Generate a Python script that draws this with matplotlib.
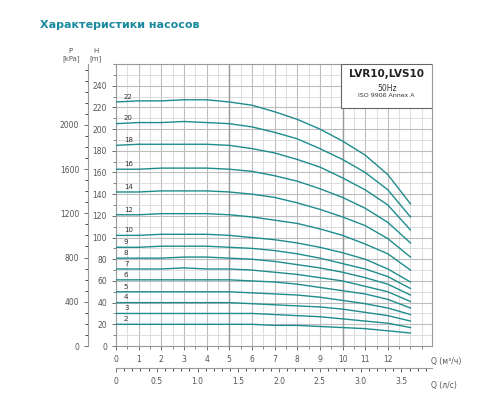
import matplotlib
matplotlib.use("Agg")
import matplotlib.pyplot as plt
from matplotlib.ticker import MultipleLocator

# Q flow points (m3/h) and head (m) for each stage count
q_pts = list(range(0, 14))
stages = [22, 20, 18, 16, 14, 12, 10, 9, 8, 7, 6, 5, 4, 3, 2]
heads = [
    [225, 226, 226, 227, 227, 225, 222, 216, 209, 200, 189, 176, 158, 131],
    [205, 206, 206, 207, 206, 205, 202, 197, 191, 182, 172, 160, 144, 119],
    [185, 186, 186, 186, 186, 185, 182, 178, 172, 165, 155, 144, 130, 107],
    [163, 163, 164, 164, 164, 163, 161, 157, 152, 145, 137, 127, 114, 95],
    [142, 142, 143, 143, 143, 142, 140, 137, 132, 126, 119, 111, 99, 82],
    [121, 121, 122, 122, 122, 121, 119, 116, 113, 108, 102, 94, 85, 70],
    [102, 102, 103, 103, 103, 102, 100, 98, 95, 91, 86, 80, 71, 59],
    [91, 91, 92, 92, 92, 91, 90, 88, 85, 81, 76, 71, 64, 53],
    [81, 81, 81, 82, 82, 81, 80, 78, 75, 72, 68, 63, 57, 47],
    [71, 71, 71, 72, 71, 71, 70, 68, 66, 63, 60, 55, 50, 41],
    [61, 61, 61, 61, 61, 61, 60, 59, 57, 54, 51, 48, 43, 35],
    [50, 50, 50, 50, 50, 50, 49, 48, 47, 45, 42, 39, 35, 29],
    [40, 40, 40, 40, 40, 40, 39, 38, 37, 36, 34, 31, 28, 23],
    [30, 30, 30, 30, 30, 30, 30, 29, 28, 27, 25, 23, 21, 17],
    [20, 20, 20, 20, 20, 20, 20, 19, 19, 18, 17, 16, 14, 12],
]
p_ticks = [0, 400, 800, 1200, 1600, 2000]      # kPa
ls_ticks = [0, 0.5, 1.0, 1.5, 2.0, 2.5, 3.0, 3.5]  # l/s

TEAL = "#1e8c8c"
GRAY = "#555555"

fig = plt.figure(figsize=(5, 4), dpi=100)
fig.text(0.08, 0.93, "Характеристики насосов", color="#1a8a9e",
         fontsize=8, fontweight="bold")

ax = fig.add_axes([0.232, 0.135, 0.632, 0.705])
ax.set_xlim(0, 13.95)
ax.set_ylim(0, 260)

ax.xaxis.set_major_locator(MultipleLocator(1))
ax.xaxis.set_minor_locator(MultipleLocator(0.5))
ax.yaxis.set_major_locator(MultipleLocator(20))
ax.yaxis.set_minor_locator(MultipleLocator(10))
ax.grid(True, which="minor", color="#d8d8d8", linewidth=0.6)
ax.grid(True, which="major", color="#bdbdbd", linewidth=0.8)
for xv in (5, 10):
    ax.axvline(xv, color="#9a9a9a", linewidth=1.0, zorder=1)
ax.set_axisbelow(True)

for n, h in zip(stages, heads):
    ax.plot(q_pts, h, color=TEAL, linewidth=1.0, zorder=3)
    ax.text(0.35, h[0] + 3, str(n), fontsize=5, color="#333333")

ax.set_xticks(range(0, 13))
ax.set_yticks(range(0, 241, 20))
ax.tick_params(labelsize=5.5, colors=GRAY, length=3, width=0.6)
ax.tick_params(which="minor", length=2, width=0.5, colors=GRAY)
for s in ax.spines.values():
    s.set_color("#999999")
    s.set_linewidth(0.8)
ax.text(13.9, -14, "Q (м³/ч)", fontsize=5.5, color=GRAY, va="center")
ax.text(-0.9, 262, "H\n[m]", fontsize=5, color=GRAY, ha="center", va="bottom")

# pressure axis (kPa)
axp = ax.twinx()
axp.set_ylim(0, 260 * 9.81)
axp.yaxis.set_ticks_position("left")
axp.yaxis.set_label_position("left")
axp.spines["left"].set_position(("outward", 20))
axp.spines["left"].set_color("#999999")
axp.spines["right"].set_visible(False)
axp.spines["top"].set_visible(False)
axp.spines["bottom"].set_visible(False)
axp.set_yticks(p_ticks)
axp.yaxis.set_minor_locator(MultipleLocator(100))
axp.tick_params(labelsize=5.5, colors=GRAY, length=3, width=0.6)
axp.tick_params(which="minor", length=2, width=0.5)
ax.text(-2.0, 262, "P\n[kPa]", fontsize=5, color=GRAY, ha="center", va="bottom")

# flow axis (l/s)
axq = ax.twiny()
axq.set_xlim(0, 13.95 / 3.6)
axq.xaxis.set_ticks_position("bottom")
axq.spines["bottom"].set_position(("outward", 16))
axq.spines["bottom"].set_color("#999999")
for k in ("top", "left", "right"):
    axq.spines[k].set_visible(False)
axq.set_xticks(ls_ticks)
axq.set_xticklabels(["0", "0.5", "1.0", "1.5", "2.0", "2.5", "3.0", "3.5"])
axq.xaxis.set_minor_locator(MultipleLocator(0.1))
axq.tick_params(labelsize=5.5, colors=GRAY, length=3, width=0.6)
axq.tick_params(which="minor", length=2, width=0.5)
ax.text(13.9, -36, "Q (л/с)", fontsize=5.5, color=GRAY, va="center")

# title box
ax.text(11.95, 255, "LVR10,LVS10", fontsize=7.5, fontweight="bold",
        ha="center", va="top", color="#222222", zorder=6)
ax.text(11.95, 242, "50Hz", fontsize=5.5, ha="center", va="top", color="#333333", zorder=6)
ax.text(11.95, 233, "ISO 9906 Annex A", fontsize=4.5, ha="center", va="top",
        color="#333333", zorder=6)
ax.add_patch(plt.Rectangle((9.95, 219), 4.0, 41, facecolor="white",
                           edgecolor="#666666", linewidth=0.8, zorder=5))

fig.savefig("out.png", dpi=100)
